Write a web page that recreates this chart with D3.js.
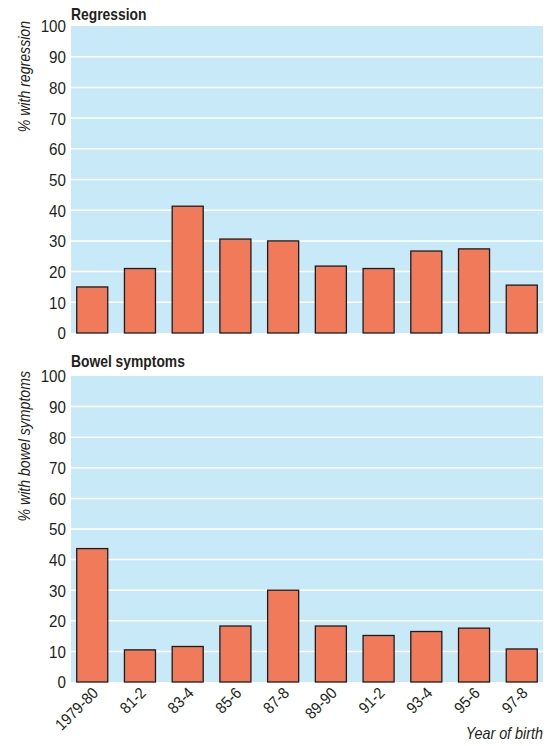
<!DOCTYPE html>
<html>
<head>
	<meta charset="utf-8">
	<title>Regression and bowel symptoms by year of birth</title>
	<script type="text/javascript" src="https://cdnjs.cloudflare.com/ajax/libs/d3/7.8.5/d3.min.js"></script>
	<style>
		body { margin: 0; background: #fff; }
		text { font-family: "Liberation Sans", Arial, sans-serif; fill: #231f20; }
	</style>
</head>
<body>
	<script type="text/javascript">
		var width = 551,
			height = 746;

		var years = ['1979-80', '81-2', '83-4', '85-6', '87-8', '89-90', '91-2', '93-4', '95-6', '97-8'];
		var regression = [15, 21, 41.3, 30.6, 30, 21.8, 21, 26.7, 27.4, 15.6];
		var bowel = [43.6, 10.5, 11.6, 18.3, 30, 18.3, 15.2, 16.5, 17.6, 10.8];
		var yTicks = [0, 10, 20, 30, 40, 50, 60, 70, 80, 90, 100];

		var svg = d3.select('body')
					.append('svg')
					.attr('width', width)
					.attr('height', height);

		var x = d3.scaleBand()
					.domain(years)
					.range([71, 543])
					.paddingInner(0.35)
					.paddingOuter(0.12);

		// condensed look: no narrow font installed, so squeeze text horizontally
		var squeeze = 0.84;

		function drawPanel(values, title, titleY, yTitle, top, bottom, showX){
			var y = d3.scaleLinear().domain([0, 100]).range([bottom, top]);
			var g = svg.append('g');

			g.append('rect')
				.attr('x', 71)
				.attr('y', top)
				.attr('width', 543 - 71)
				.attr('height', bottom - top)
				.attr('fill', '#c7e9f8');

			g.selectAll('line.grid')
				.data(yTicks.slice(1, -1))
				.enter()
				.append('line')
				.attr('class', 'grid')
				.attr('x1', 71)
				.attr('x2', 543)
				.attr('y1', function(d){ return y(d); })
				.attr('y2', function(d){ return y(d); })
				.attr('stroke', '#fff')
				.attr('stroke-width', 1.5);

			var yAxis = g.append('g')
						.attr('transform', 'translate(71,0)')
						.call(d3.axisLeft(y).tickValues(yTicks).tickSize(0).tickPadding(0));
			yAxis.select('.domain').remove();
			yAxis.selectAll('text')
				.attr('x', 0)
				.attr('dy', '0.36em')
				.attr('transform', 'translate(-5,0) scale(0.92,1)')
				.style('font-size', '16.5px')
				.style('fill', '#231f20');

			g.selectAll('rect.bar')
				.data(values)
				.enter()
				.append('rect')
				.attr('class', 'bar')
				.attr('x', function(d, i){ return x(years[i]); })
				.attr('y', function(d){ return y(d); })
				.attr('width', x.bandwidth())
				.attr('height', function(d){ return bottom - y(d); })
				.attr('fill', '#f17a5b')
				.attr('stroke', '#1c1c1c')
				.attr('stroke-width', 1.3);

			g.append('text')
				.attr('transform', 'translate(71,' + titleY + ') scale(' + squeeze + ',1)')
				.style('font-size', '16.5px')
				.style('font-weight', 'bold')
				.text(title);

			g.append('text')
				.attr('transform', 'translate(30,' + (top - 5) + ') rotate(-90) scale(0.83,1)')
				.attr('text-anchor', 'end')
				.style('font-size', '17px')
				.style('font-style', 'italic')
				.text(yTitle);

			if(showX){
				var xAxis = g.append('g')
							.attr('transform', 'translate(0,' + bottom + ')')
							.call(d3.axisBottom(x).tickSize(0).tickPadding(0));
				xAxis.select('.domain').remove();
				xAxis.selectAll('text')
					.attr('y', 0)
					.attr('dy', 0)
					.attr('text-anchor', 'end')
					.attr('transform', 'translate(7,12) rotate(-45) scale(0.9,1)')
					.style('font-size', '16px')
					.style('fill', '#231f20');
			}
		}

		drawPanel(regression, 'Regression', 20, '% with regression', 26, 333, false);
		drawPanel(bowel, 'Bowel symptoms', 367, '% with bowel symptoms', 376, 682, true);

		svg.append('text')
			.attr('transform', 'translate(543,739) scale(0.87,1)')
			.attr('text-anchor', 'end')
			.style('font-size', '16.5px')
			.style('font-style', 'italic')
			.text('Year of birth');
	</script>
</body>
</html>
